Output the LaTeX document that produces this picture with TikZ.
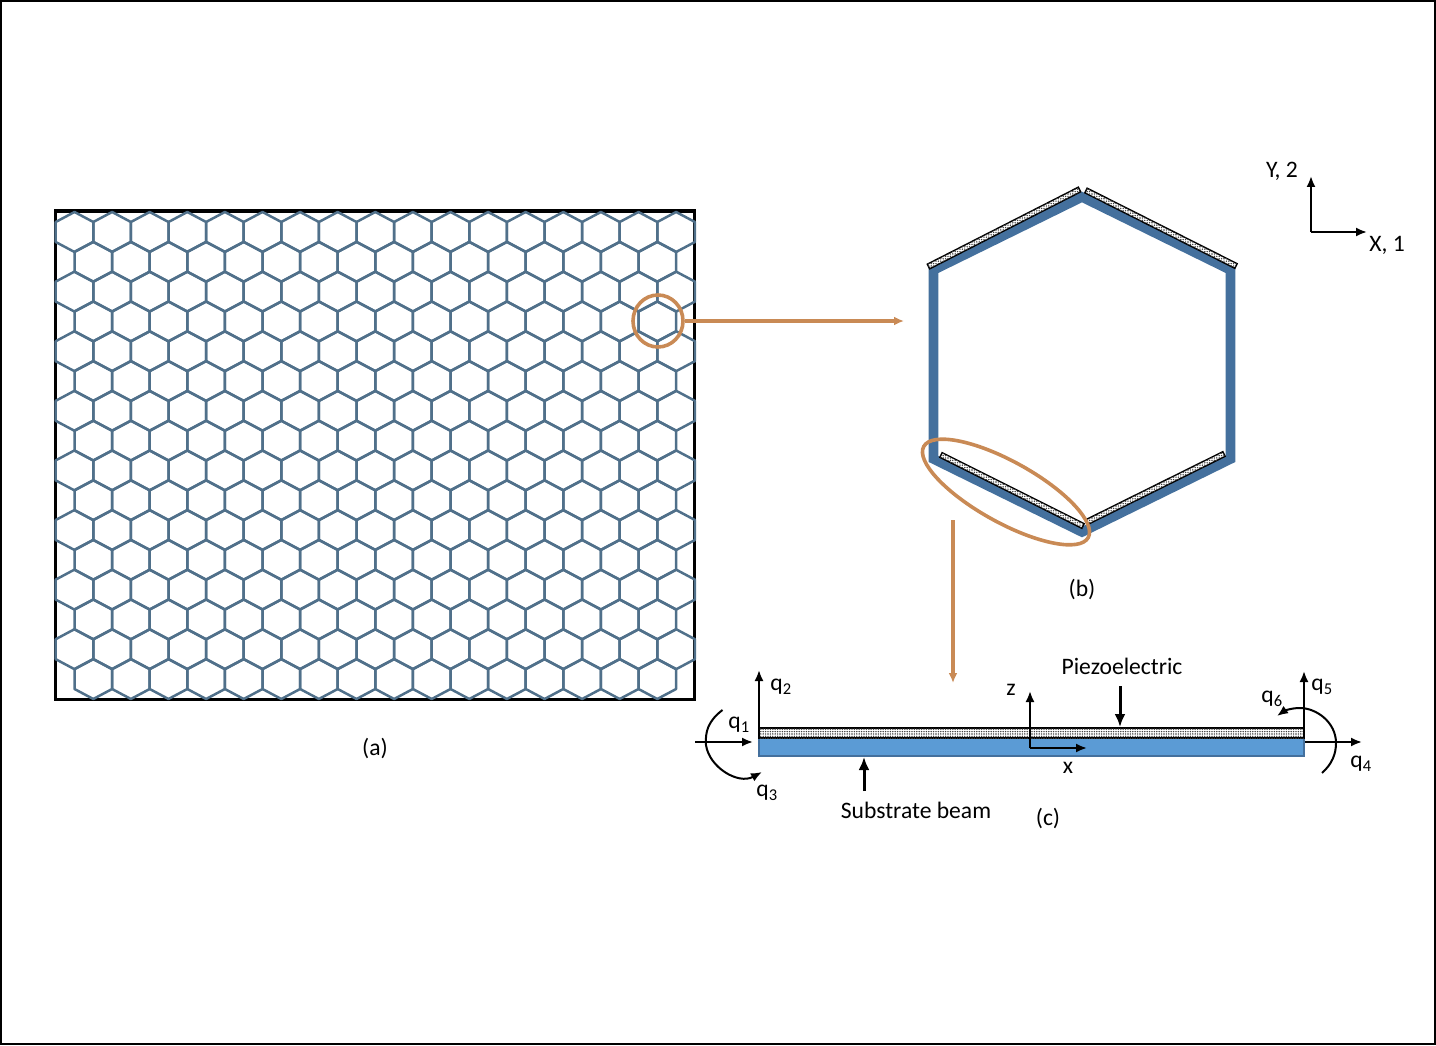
\documentclass[tikz,border=0pt]{standalone}
\usepackage{fontspec}
\setmainfont{Carlito}
\usetikzlibrary{arrows.meta,calc,patterns,shapes.geometric}
\definecolor{hexblue}{HTML}{50708A}
\definecolor{cellblue}{HTML}{44709D}
\definecolor{beamblue}{HTML}{5B9BD5}
\definecolor{ringorange}{HTML}{C98A55}
\pgfdeclarepatternformonly{finedots}{\pgfpoint{-1.2pt}{-1.2pt}}{\pgfpoint{1.2pt}{1.2pt}}{\pgfpoint{2.4pt}{2.4pt}}{%
  \pgfpathcircle{\pgfpointorigin}{.8pt}\pgfusepath{fill}}
\tikzset{
  hexline/.style = {draw=hexblue, line width=2.5pt, line join=round},
  piezo/.style = {draw=black, line width=1.4pt, fill=white, postaction={pattern=finedots, pattern color=black!75}},
  ring/.style = {draw=ringorange, line width=3.6pt},
  feed/.style = {draw=ringorange, line width=3.2pt, -{Latex[length=10pt,width=9pt]}},
  axis/.style = {draw=black, line width=2pt, -{Latex[length=11pt,width=9pt]}},
  pointer/.style = {draw=black, line width=3pt, -{Latex[length=13pt,width=11pt]}},
  txt/.style = {inner sep=0pt, font=\fontsize{23.6}{28}\selectfont}
}
\newcommand{\strip}[3]{%
  \draw[piezo] ($(#1)!#3!90:(#2)$) -- ($(#1)!#3!-90:(#2)$) -- ($(#2)!#3!90:(#1)$) -- ($(#2)!#3!-90:(#1)$) -- cycle;}
\begin{document}
\begin{tikzpicture}[x=1pt, y=-1pt]
\useasboundingbox (0,0) rectangle (1436,1046);
\draw[line width=1.5pt] (1,1) rectangle (1435,1044);

% (a) honeycomb sheet
\draw[line width=3pt] (55,211) rectangle (694,699);
\foreach \r in {0,...,15}{
  \pgfmathtruncatemacro{\last}{isodd(\r) ? 15 : 16}
  \foreach \c in {0,...,\last}{
    \pgfmathsetmacro{\cx}{(isodd(\r) ? 93.3 : 74.5) + 37.6*\c}
    \pgfmathsetmacro{\cy}{232 + 29.8*\r}
    \draw[hexline] (\cx,\cy) ++(0,-20) -- ++(18.8,10) -- ++(0,20) -- ++(-18.8,10) -- ++(-18.8,-10) -- ++(0,-20) -- cycle;
  }
}
\node[txt] (lblA) at (375,748) {(a)};
\node[ellipse, ring, minimum width=50pt, minimum height=52pt, inner sep=0pt] (zoomRing) at (658,321) {};

% (b) unit cell
\draw[draw=cellblue, line width=9.6pt, miter limit=10] (1082,197) -- (1230.5,270) -- (1230.5,459) -- (1082,532) -- (933.5,459) -- (933.5,270) -- cycle;
\coordinate (tlA) at (928.5,266.5);
\coordinate (tlB) at (1079.5,189.5);
\coordinate (trA) at (1086,190.5);
\coordinate (trB) at (1236,266);
\coordinate (blA) at (941,455);
\coordinate (blB) at (1083,526);
\coordinate (brA) at (1087,522);
\coordinate (brB) at (1224,454);
\strip{tlA}{tlB}{2.6pt}
\strip{trA}{trB}{2.6pt}
\strip{blA}{blB}{2.6pt}
\strip{brA}{brB}{2.6pt}
\node[txt] (lblB) at (1082,590) {(b)};
\node[ellipse, ring, rotate=-29, minimum width=188pt, minimum height=61pt, inner sep=0pt] (zoomEll) at (1006,492) {};
\coordinate (cellEnd) at (904,321);
\coordinate (beamEnd) at (953,683);
\coordinate (ellOut) at (953,520);
\draw[feed] (zoomRing.east) -- (cellEnd);
\draw[feed] (ellOut) -- (beamEnd);

% global axes
\coordinate (origin) at (1311,232);
\coordinate (yEnd) at (1311,176);
\coordinate (xEnd) at (1367,232);
\draw[axis] (origin) -- (yEnd);
\draw[axis] (origin) -- (xEnd);
\node[txt] (lblY) at (1282,171) {Y, 2};
\node[txt] (lblX) at (1387,245) {X, 1};

% (c) beam element
\fill[beamblue] (759,738) rectangle (1304,756);
\draw[cellblue, line width=1.4pt] (759,738) -- (759,756) -- (1304,756) -- (1304,738);
\draw[draw=black, line width=1.2pt, fill=white, postaction={pattern=finedots, pattern color=black!75}] (759,728) rectangle (1304,738);

\coordinate (leftTop) at (759,728);
\coordinate (q2End) at (759,670);
\coordinate (q1Start) at (695,742);
\coordinate (q1End) at (753,742);
\coordinate (rightTop) at (1304,738);
\coordinate (q5End) at (1304,671);
\coordinate (q4Start) at (1305,742);
\coordinate (q4End) at (1362,742);
\coordinate (zOrigin) at (1030,748);
\coordinate (zEnd) at (1030,691);
\coordinate (xAxisEnd) at (1087,748);
\coordinate (subStart) at (864,791);
\coordinate (subEnd) at (864,757);
\coordinate (pzStart) at (1120,686);
\coordinate (pzEnd) at (1120,727);
\draw[axis] (leftTop) -- (q2End);
\draw[axis] (q1Start) -- (q1End);
\draw[axis] (rightTop) -- (q5End);
\draw[axis] (q4Start) -- (q4End);
\draw[axis] (zOrigin) -- (zEnd);
\draw[axis] (zOrigin) -- (xAxisEnd);
\draw[pointer] (subStart) -- (subEnd);
\draw[pointer] (pzStart) -- (pzEnd);
\draw[axis] (722.5,710) .. controls (708,721) and (705,732) .. (706,745) .. controls (709,767) and (738,785) .. (762,772);
\draw[axis] (1322,773) .. controls (1332,764) and (1336,754) .. (1336,743) .. controls (1336,722) and (1316,708) .. (1300,708) .. controls (1291,708) and (1284,711) .. (1277,716);

\node[txt] (q1) at (739,725) {q\textsubscript{1}};
\node[txt] (q2) at (781,687) {q\textsubscript{2}};
\node[txt] (q3) at (767,793) {q\textsubscript{3}};
\node[txt] (q4) at (1361,764) {q\textsubscript{4}};
\node[txt] (q5) at (1322,687) {q\textsubscript{5}};
\node[txt] (q6) at (1272,699) {q\textsubscript{6}};
\node[txt] (lblZ) at (1011,690) {z};
\node[txt] (lblx) at (1068,768) {x};
\node[txt] (lblSub) at (916,810) {Substrate beam};
\node[txt] (lblPz) at (1122,666) {Piezoelectric};
\node[txt] (lblC) at (1048,818) {(c)};
\end{tikzpicture}
\end{document}
